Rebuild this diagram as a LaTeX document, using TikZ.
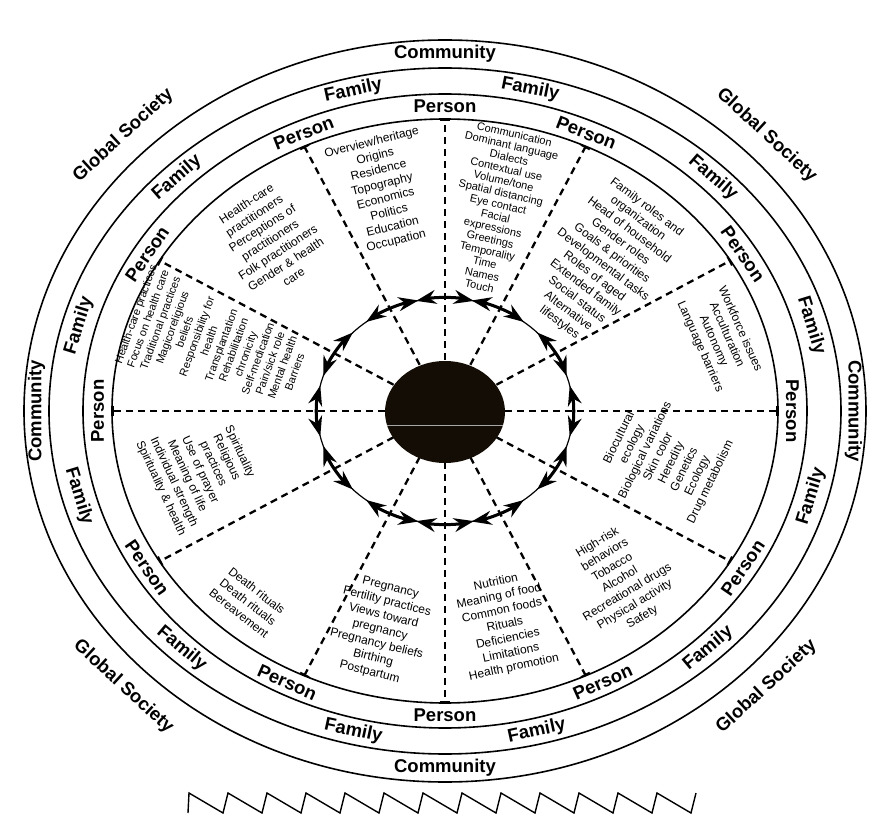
\documentclass[tikz,border=0pt]{standalone}
\usepackage{fontspec}
\setmainfont{Liberation Sans}
\usetikzlibrary{arrows.meta}

\tikzset{
	rim/.style={line width=1.6pt},
	spoke/.style={line width=2.3pt, dash pattern=on 7pt off 5pt, -{Bar[width=10pt,line width=1.8pt]}},
	ringlbl/.style={font=\fontsize{18.5}{20}\selectfont\bfseries, inner sep=0pt},
	dombox/.style={font=\fontsize{12}{14.5}\selectfont, align=center, inner sep=0pt},
	linkarrow/.style={line width=3pt, {Stealth[length=20pt,width=14pt]}-{Stealth[length=20pt,width=14pt]}},
}

\newcommand{\ringtext}[6]{%
	\pgfmathsetmacro{\rx}{#2*cos(#4)}%
	\pgfmathsetmacro{\ry}{#3*sin(#4)}%
	\pgfmathsetmacro{\rot}{atan2(-#3*cos(#4),#2*sin(#4))+#6}%
	\node[ringlbl, rotate=\rot] (#1) at (\rx,\ry) {#5};%
}

\begin{document}
\begin{tikzpicture}[x=1pt,y=1pt]
				\useasboundingbox (-445,-406) rectangle (434,411);
				\draw[rim] (0,0) ellipse [x radius=421, y radius=371];
				\draw[rim] (0,0) ellipse [x radius=396, y radius=343];
				\draw[rim] (0,0) ellipse [x radius=362, y radius=317];
				\draw[rim] (0,0) ellipse [x radius=333, y radius=292];
				\draw[line width=1.2pt] (0,0) ellipse [x radius=128, y radius=113];
				\foreach \t in {0,31,65,90,115,149,180,211,245,270,295,329}
					\draw[spoke] ({60*cos(\t)},{51*sin(\t)}) -- ({333*cos(\t)},{292*sin(\t)});
				\foreach \t in {0,31,65,90,115,149,180,211,245,270,295,329}
					\draw[linkarrow] ({128*cos(\t-13)},{113*sin(\t-13)}) arc[start angle=\t-13, end angle=\t+13, x radius=128, y radius=113];
				\fill[black!90!brown] (0,-1) ellipse [x radius=60, y radius=51];
				\draw[black!35, line width=0.8pt] (-58,-14) -- (58,-14);
				\ringtext{com-t}{408.5}{357}{90}{Community}{0}
				\ringtext{com-l}{408.5}{357}{180}{Community}{0}
				\ringtext{com-r}{408.5}{357}{0}{Community}{0}
				\ringtext{com-b}{408.5}{357}{270}{Community}{180}
				\ringtext{glob-tl}{447}{397}{136}{Global Society}{0}
				\ringtext{glob-tr}{447}{397}{44}{Global Society}{0}
				\ringtext{glob-bl}{447}{397}{224}{Global Society}{180}
				\ringtext{glob-br}{447}{397}{316}{Global Society}{180}
				\foreach \t/\fl in {15/0,45/0,77/0,104/0,135/0,165/0,195/180,226/180,256/180,284/180,314/180,345/180}
					{\ringtext{fam-\t}{379}{330}{\t}{Family}{\fl}}
				\foreach \t/\fl in {0/0,31/0,66/0,90/0,114/0,149/0,180/0,211/180,243/180,270/180,297/180,329/180}
					{\ringtext{per-\t}{347.5}{304.5}{\t}{Person}{\fl}}
				\node[dombox, rotate=14] (heritage) at (-61,219) {Overview/heritage\\Origins\\Residence\\Topography\\Economics\\Politics\\Education\\Occupation};
				\node[dombox, rotate=-13, font=\fontsize{11}{12}\selectfont] (communication) at (52,201) {Communication\\Dominant language\\Dialects\\Contextual use\\Volume/tone\\Spatial distancing\\Eye contact\\Facial\\expressions\\Greetings\\Temporality\\Time\\Names\\Touch};
				\node[dombox, rotate=-37] (familyroles) at (158,146) {Family roles and\\organization\\Head of household\\Gender roles\\Goals \& priorities\\Developmental tasks\\Roles of aged\\Extended family\\Social status\\Alternative\\lifestyles};
				\node[dombox, rotate=-66] (workforce) at (275,73) {Workforce issues\\Acculturation\\Autonomy\\Language barriers};
				\node[dombox, rotate=64] (biocultural) at (220,-49) {Biocultural\\ecology\\Biological variations\\Skin color\\Heredity\\Genetics\\Ecology\\Drug metabolism};
				\node[dombox, rotate=31] (highrisk) at (175,-169) {High-risk\\behaviors\\Tobacco\\Alcohol\\Recreational drugs\\Physical activity\\Safety};
				\node[dombox, rotate=12] (nutrition) at (60,-214) {Nutrition\\Meaning of food\\Common foods\\Rituals\\Deficiencies\\Limitations\\Health promotion};
				\node[dombox, rotate=-14] (pregnancy) at (-65,-219) {Pregnancy\\Fertility practices\\Views toward\\pregnancy\\Pregnancy beliefs\\Birthing\\Postpartum};
				\node[dombox, rotate=-38] (death) at (-197,-191) {Death rituals\\Death rituals\\Bereavement};
				\node[dombox, rotate=-65] (spirituality) at (-245,-59) {Spirituality\\Religious\\practices\\Use of prayer\\Meaning of life\\Individual strength\\Spirituality \& health};
				\node[dombox, rotate=70, font=\fontsize{11}{13}\selectfont] (practices) at (-230,68) {Health-care practices\\Focus on health care\\Traditional practices\\Magicoreligious\\beliefs\\Responsibility for\\health\\Transplantation\\Rehabilitation\\chronicity\\Self-medication\\Pain/sick role\\Mental health\\Barriers};
				\node[dombox, rotate=33] (practitioners) at (-175,171) {Health-care\\practitioners\\Perceptions of\\practitioners\\Folk practitioners\\Gender \& health\\care};
				\draw[line width=1.4pt, line join=miter] (-257,-402) -- (-256,-382) \foreach \k in {0,...,12} { -- ({-256+39*\k+34},-402) -- ({-256+39*\k+39},-382) };
			\end{tikzpicture}
\end{document}
